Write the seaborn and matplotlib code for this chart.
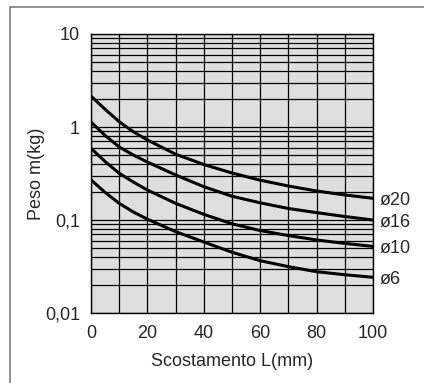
import pandas
import seaborn
import numpy
import matplotlib.pyplot as plot
from matplotlib.lines import Line2D
from matplotlib.ticker import FixedLocator, LogLocator, FixedFormatter

# Scostamento L (mm)
offset_mm = [0, 5, 10, 15, 20, 30, 40, 50, 60, 70, 80, 90, 100]
# Peso m (kg), one list per bore size
weight_d20 = [2.15, 1.55, 1.14, 0.89, 0.725, 0.51, 0.395, 0.32, 0.268, 0.232, 0.205, 0.186, 0.171]
weight_d16 = [1.13, 0.81, 0.61, 0.50, 0.42, 0.305, 0.228, 0.18, 0.153, 0.133, 0.12, 0.109, 0.100]
weight_d10 = [0.59, 0.425, 0.318, 0.256, 0.21, 0.151, 0.115, 0.091, 0.077, 0.068, 0.061, 0.056, 0.052]
weight_d6 = [0.27, 0.198, 0.151, 0.122, 0.102, 0.075, 0.058, 0.045, 0.0365, 0.0315, 0.0278, 0.0258, 0.0242]
bore_labels = ["ø20", "ø16", "ø10", "ø6"]
y_tick_values = [0.01, 0.1, 1, 10]
y_tick_labels = ["0,01", "0,1", "1", "10"]
x_tick_values = [0, 20, 40, 60, 80, 100]

series = [weight_d20, weight_d16, weight_d10, weight_d6]
df = pandas.concat([
    pandas.DataFrame({"L": offset_mm, "m": w, "bore": b})
    for w, b in zip(series, bore_labels)
])

seaborn.set_style("white")
plot.rcParams['font.family'] = ['Liberation Sans', 'DejaVu Sans']

fig = plot.figure(figsize=(4.24, 3.83), dpi=100)
ax = fig.add_axes([91 / 424, 1 - 313 / 383, 282 / 424, 279 / 383])
ax.set_facecolor('#dedede')

seaborn.lineplot(data=df, x="L", y="m", units="bore", estimator=None,
                 color='black', linewidth=2.2, ax=ax, legend=False)

ax.set_yscale('log')
ax.set_xlim(0, 100)
ax.set_ylim(0.01, 10)

ax.xaxis.set_major_locator(FixedLocator(x_tick_values))
ax.xaxis.set_minor_locator(FixedLocator(range(0, 101, 10)))
ax.yaxis.set_major_locator(FixedLocator(y_tick_values))
ax.yaxis.set_major_formatter(FixedFormatter(y_tick_labels))
ax.yaxis.set_minor_locator(LogLocator(base=10, subs=numpy.arange(2, 10)))
ax.yaxis.set_minor_formatter(plot.NullFormatter())

ax.grid(which='both', axis='both', color='black', linewidth=0.9)
ax.set_axisbelow(False)
ax.tick_params(which='both', length=0, labelsize=13)
ax.tick_params(axis='x', pad=9)
ax.tick_params(axis='y', pad=8)
for s in ax.spines.values():
    s.set_color('black')
    s.set_linewidth(1.0)

ax.set_xlabel("Scostamento L(mm)", fontsize=13, labelpad=7.5)
ax.set_ylabel("Peso m(kg)", fontsize=13, labelpad=0)

for w, b in zip(series, bore_labels):
    ax.annotate(b, xy=(offset_mm[-1], w[-1]), xytext=(5, -1.5),
                textcoords='offset points', fontsize=13, va='center', ha='left',
                annotation_clip=False)

# partial outer frame (top and left edges visible)
fig.add_artist(Line2D([10 / 424, 1], [1 - 7 / 383, 1 - 7 / 383], color='#808080', linewidth=1.2))
fig.add_artist(Line2D([10 / 424, 10 / 424], [0, 1 - 7 / 383], color='#808080', linewidth=1.2))

fig.savefig("out.png", dpi=100)
